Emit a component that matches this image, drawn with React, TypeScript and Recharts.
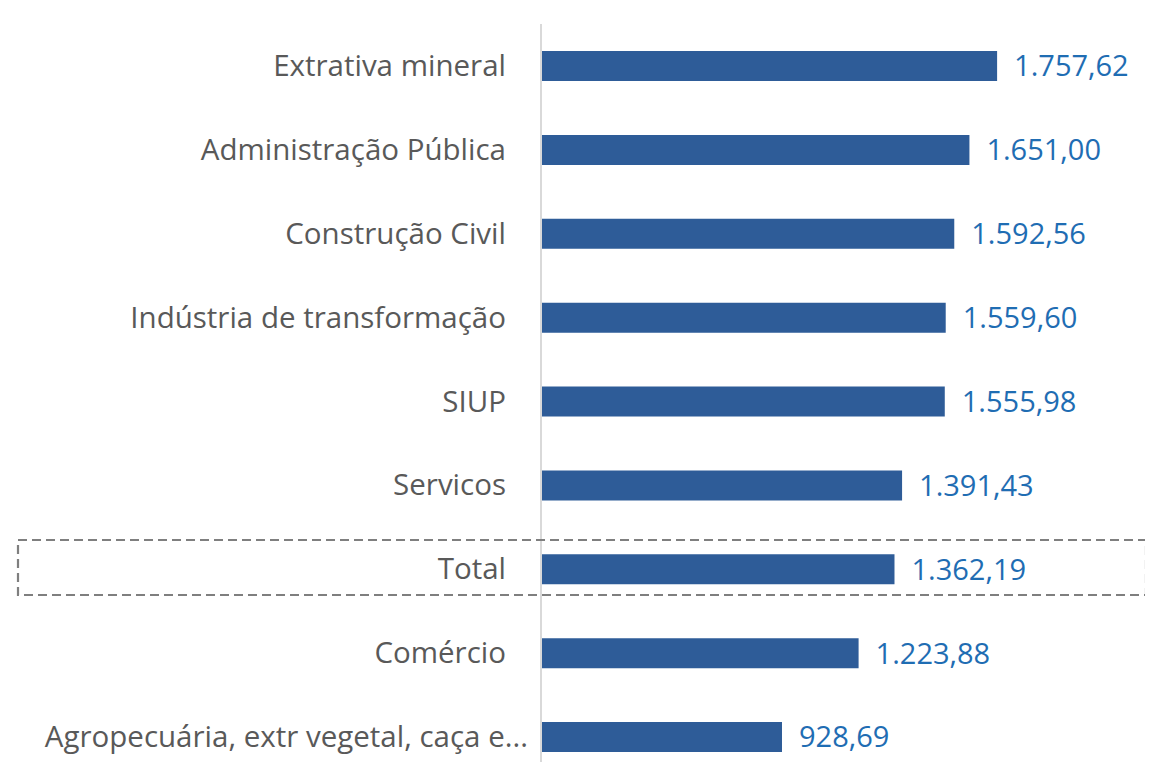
import { Bar, BarChart, LabelList, XAxis, YAxis } from 'recharts'

const categories = [
  'Extrativa mineral',
  'Administração Pública',
  'Construção Civil',
  'Indústria de transformação',
  'SIUP',
  'Servicos',
  'Total',
  'Comércio',
  'Agropecuária, extr vegetal, caça e...',
]

const salaries = [1757.62, 1651.0, 1592.56, 1559.6, 1555.98, 1391.43, 1362.19, 1223.88, 928.69]

const data = categories.map((name, i) => ({ name, value: salaries[i] }))

const fmt = (v: number) =>
  v.toLocaleString('pt-BR', { minimumFractionDigits: 2, maximumFractionDigits: 2 })

const font = "'Open Sans', sans-serif"

function CategoryTick(props: any) {
  const { x, y, payload } = props
  const truncated = String(payload.value).endsWith('...')
  return (
    <text
      x={truncated ? x - 5 : x - 27}
      y={y}
      dy={10}
      textAnchor="end"
      fill="#595959"
      fontSize={29.5}
      fontFamily={font}
    >
      {payload.value}
    </text>
  )
}

export default function App() {
  return (
    <div style={{ position: 'relative', width: 1145, height: 754, overflow: 'hidden' }}>
      <BarChart
        width={1145}
        height={776}
        data={data}
        layout="vertical"
        margin={{ top: 16, right: 93, left: 0, bottom: 5 }}
      >
        <XAxis type="number" domain={[0, 2000]} hide />
        <YAxis
          type="category"
          dataKey="name"
          width={533}
          axisLine={{ stroke: '#d9d9d9', strokeWidth: 2 }}
          tickLine={false}
          tick={<CategoryTick />}
          interval={0}
        />
        <Bar dataKey="value" fill="#2e5c98" barSize={30} isAnimationActive={false}>
          <LabelList
            dataKey="value"
            position="right"
            offset={17}
            formatter={(v: any) => fmt(Number(v))}
            fill="#1f6db3"
            fontSize={29}
            fontFamily={font}
          />
        </Bar>
      </BarChart>
      <svg
        width={1145}
        height={754}
        style={{ position: 'absolute', left: 0, top: 0, pointerEvents: 'none' }}
      >
        <rect
          x={10}
          y={532}
          width={1128}
          height={55}
          fill="none"
          stroke="#7f7f7f"
          strokeWidth={2.2}
          strokeDasharray="9 5"
        />
      </svg>
    </div>
  )
}
